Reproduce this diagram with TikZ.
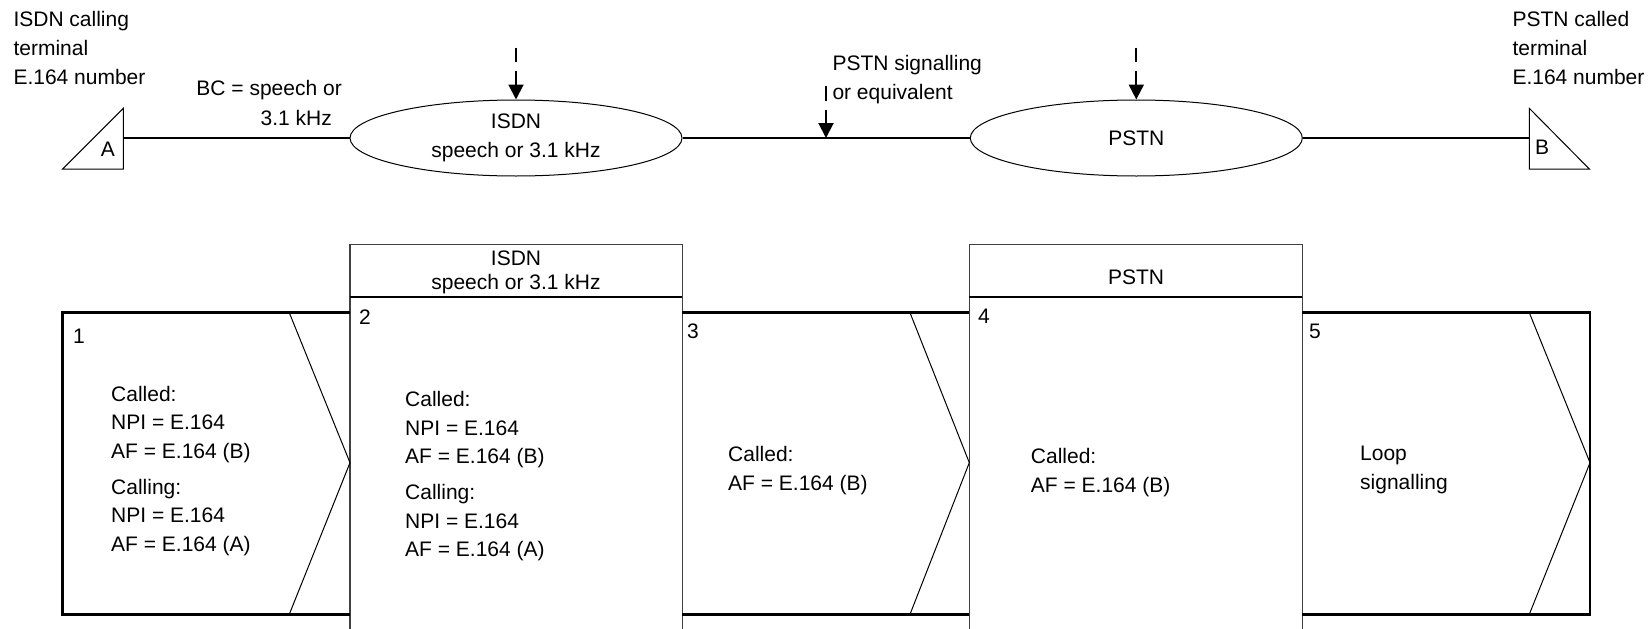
\documentclass[tikz,border=0pt]{standalone}
\usepackage{fontspec}
\setmainfont{Liberation Sans}
\usetikzlibrary{shapes.geometric, arrows.meta, positioning}
\tikzset{
	heavy/.style={line width=2.5pt},
	fine/.style={line width=1pt},
	frame/.style={line width=1.3pt, draw=black!75},
	link/.style={line width=2pt},
	network/.style={ellipse, draw, line width=1pt, minimum width=332pt, minimum height=76pt, inner sep=0pt, align=center, font=\fontsize{21}{29}\selectfont},
	txt/.style={inner sep=0pt, align=left, font=\fontsize{21}{29}\selectfont},
	num/.style={inner sep=0pt, font=\fontsize{21}{25}\selectfont},
	sigarrow/.style={line width=2pt, dash pattern=on 14.5pt off 9pt on 200pt, -{Triangle[length=15pt, width=15pt]}}
}
\begin{document}
\begin{tikzpicture}[x=1pt, y=-1pt]
	\useasboundingbox (0,0) rectangle (1652,629);
	% Netze und Endgeraete
	\node (isdn) [network] at (516,138) {ISDN\\speech or 3.1 kHz};
	\node (pstn) [network] at (1136.3,138) {PSTN};
	\draw [fine] (62.7,169) -- (123.3,108.3) -- (123.3,169) -- cycle;
	\draw [fine] (1529.3,108.3) -- (1589.3,169) -- (1529.3,169) -- cycle;
	\node (ltrA) [num] at (108,149) {A};
	\node (ltrB) [num] at (1542,147) {B};
	\coordinate (termA) at (123.3,138);
	\coordinate (termB) at (1529.3,138);
	
	% Beschriftungen oben
	\node (callA) [txt, anchor=west] at (13.3,47.5) {ISDN calling\\terminal\\E.164 number};
	\node (callB) [txt, anchor=west] at (1512.3,48) {PSTN called\\terminal\\E.164 number};
	\node (bc) [txt, align=right, anchor=east, font=\fontsize{21}{30}\selectfont] at (342,103.3) {BC = speech or\\3.1 kHz\hspace*{10pt}};
	\node (sigtxt) [txt, anchor=west] at (832.3,80) {PSTN signalling\\or equivalent};
	
	% Verbindungen
	\draw [link] (termA) -- (isdn.west);
	\draw [link] (isdn.east) -- (pstn.west);
	\draw [link] (pstn.east) -- (termB);
	
	\coordinate [above=52pt of isdn.north] (refI);
	\coordinate [above=52pt of pstn.north] (refII);
	\coordinate (sigpt) at (826,138);
	\coordinate [above=52pt of sigpt] (sigtop);
	\draw [sigarrow] (refI) -- (isdn.north);
	\draw [sigarrow] (refII) -- (pstn.north);
	\draw [sigarrow] (sigtop) -- (sigpt);
	
	% Kaesten 2 und 4 mit Kopf
	\draw [frame] (350,629) -- (350,244.7) -- (682.3,244.7) -- (682.3,629);
	\draw [frame] (969.3,629) -- (969.3,244.7) -- (1302.3,244.7) -- (1302.3,629);
	\draw [link] (350,296.7) -- (682.3,296.7);
	\draw [link] (969.3,296.7) -- (1302.3,296.7);
	\node (hdisdn) [txt, align=center, font=\fontsize{21}{24}\selectfont] at (516,272) {ISDN\\speech or 3.1 kHz};
	\node (hdpstn) [txt] at (1136,277) {PSTN};
	
	% Kaesten 1, 3 und 5
	\draw [heavy] (350,312.7) -- (62.7,312.7) -- (62.7,614.3) -- (350,614.3);
	\draw [heavy] (682.3,312.7) -- (969.3,312.7);
	\draw [heavy] (682.3,614.3) -- (969.3,614.3);
	\draw [heavy] (1302.3,312.7) -- (1590,312.7) -- (1590,614.3) -- (1302.3,614.3);
	\draw [fine] (289.3,312.7) -- (350,462.7) -- (289.3,614.3);
	\draw [fine] (910,312.7) -- (969.3,462.7) -- (910,614.3);
	\draw [fine] (1529.3,312.7) -- (1590,462.7) -- (1529.3,614.3);
	
	% Nummern
	\node (n1) [num] at (79,336.7) {1};
	\node (n2) [num] at (365,317) {2};
	\node (n3) [num] at (693,331.7) {3};
	\node (n4) [num] at (984,316.7) {4};
	\node (n5) [num] at (1315,331.7) {5};
	
	% Inhalte
	\node (t1) [txt, anchor=west, font=\fontsize{21}{28.5}\selectfont] at (111,471) {Called:\\NPI = E.164\\AF = E.164 (B)\\[7.5pt]Calling:\\NPI = E.164\\AF = E.164 (A)};
	\node (t2) [txt, anchor=west, font=\fontsize{21}{28.5}\selectfont] at (405,476.5) {Called:\\NPI = E.164\\AF = E.164 (B)\\[7.5pt]Calling:\\NPI = E.164\\AF = E.164 (A)};
	\node (t3) [txt, anchor=west] at (728,470.5) {Called:\\AF = E.164 (B)};
	\node (t4) [txt, anchor=west] at (1030.7,472.5) {Called:\\AF = E.164 (B)};
	\node (t5) [txt, anchor=west] at (1360,470.3) {Loop\\signalling};
\end{tikzpicture}
\end{document}
